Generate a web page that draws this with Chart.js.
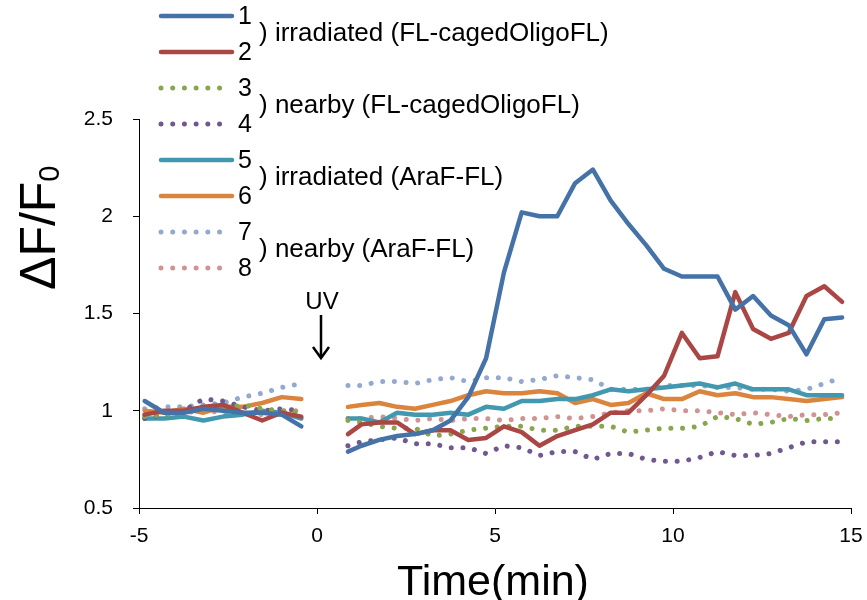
<!DOCTYPE html>
<html>
<head>
<meta charset="utf-8">
<script src="https://cdn.jsdelivr.net/npm/chart.js@4/dist/chart.umd.min.js"></script>
<style>
  html, body { margin: 0; padding: 0; background: #fff; }
  #wrap { width: 867px; height: 600px; position: relative; }
</style>
</head>
<body>
<div id="wrap"><canvas id="chart" width="867" height="600"></canvas></div>
<script>
(() => {
  'use strict';

  // sample times (min), before and after the UV pulse
  const timesPre = [-4.84, -4.29, -3.74, -3.19, -2.64, -2.09, -1.54, -0.99, -0.44];
  const timesPost = [0.87, 1.25, 1.75, 2.25, 2.75, 3.25, 3.75, 4.25, 4.75, 5.25, 5.75, 6.25, 6.75, 7.25, 7.75,
    8.25, 8.75, 9.25, 9.75, 10.25, 10.75, 11.25, 11.75, 12.25, 12.75, 13.25, 13.75, 14.25, 14.75];

  const s1Pre = [1.05, 0.99, 0.99, 1.01, 1.00, 0.99, 0.99, 0.98, 0.92];
  const s1Post = [0.79, 0.82, 0.85, 0.87, 0.88, 0.90, 0.95, 1.07, 1.27, 1.71, 2.02, 2.00, 2.00, 2.17, 2.24,
    2.08, 1.96, 1.85, 1.73, 1.69, 1.69, 1.69, 1.52, 1.59, 1.49, 1.44, 1.29, 1.47, 1.48];

  const s2Pre = [0.98, 1.00, 1.00, 1.02, 1.03, 0.99, 0.95, 0.99, 0.97];
  const s2Post = [0.88, 0.93, 0.94, 0.94, 0.88, 0.90, 0.90, 0.85, 0.86, 0.92, 0.89, 0.82, 0.87, 0.90, 0.93,
    0.99, 0.99, 1.08, 1.18, 1.40, 1.27, 1.28, 1.61, 1.42, 1.37, 1.40, 1.59, 1.64, 1.56];

  const s3Pre = [0.97, 0.98, 0.99, 1.02, 1.01, 1.03, 1.01, 1.00, 0.99];
  const s3Post = [0.95, 0.94, 0.92, 0.91, 0.91, 0.87, 0.88, 0.90, 0.91, 0.92, 0.92, 0.90, 0.90, 0.92, 0.92,
    0.92, 0.89, 0.90, 0.91, 0.91, 0.92, 0.97, 0.96, 0.93, 0.94, 0.96, 0.95, 0.96, 0.96];

  const s4Pre = [0.96, 0.98, 1.00, 1.06, 1.05, 1.02, 1.00, 1.01, 1.00];
  const s4Post = [0.82, 0.84, 0.85, 0.86, 0.83, 0.83, 0.81, 0.81, 0.78, 0.82, 0.81, 0.77, 0.79, 0.79, 0.75,
    0.78, 0.78, 0.75, 0.74, 0.74, 0.76, 0.79, 0.77, 0.77, 0.78, 0.81, 0.84, 0.84, 0.84];

  const s5Pre = [0.96, 0.96, 0.97, 0.95, 0.97, 0.98, 1.00, 0.99, 0.96];
  const s5Post = [0.96, 0.96, 0.94, 0.99, 0.98, 0.98, 0.99, 0.98, 1.02, 1.01, 1.05, 1.05, 1.06, 1.06, 1.08,
    1.11, 1.10, 1.11, 1.12, 1.13, 1.14, 1.12, 1.14, 1.11, 1.11, 1.11, 1.08, 1.08, 1.08];

  const s6Pre = [1.00, 0.99, 1.01, 0.99, 1.02, 1.02, 1.04, 1.07, 1.06];
  const s6Post = [1.02, 1.03, 1.04, 1.02, 1.01, 1.03, 1.05, 1.08, 1.10, 1.09, 1.09, 1.10, 1.09, 1.04, 1.06,
    1.03, 1.04, 1.09, 1.06, 1.06, 1.10, 1.08, 1.09, 1.07, 1.07, 1.06, 1.05, 1.06, 1.07];

  const s7Pre = [1.01, 1.02, 1.02, 1.03, 1.04, 1.07, 1.09, 1.12, 1.14];
  const s7Post = [1.13, 1.13, 1.15, 1.15, 1.14, 1.16, 1.17, 1.15, 1.17, 1.17, 1.15, 1.16, 1.18, 1.17, 1.16,
    1.11, 1.11, 1.11, 1.13, 1.13, 1.13, 1.12, 1.12, 1.11, 1.11, 1.10, 1.11, 1.14, 1.17];

  const s8Pre = [0.98, 0.97, 0.99, 1.00, 0.99, 0.99, 0.98, 1.00, 1.00];
  const s8Post = [0.96, 0.96, 0.97, 0.96, 0.95, 0.96, 0.95, 0.96, 0.96, 0.95, 0.96, 0.96, 0.97, 0.96, 0.97,
    0.99, 1.00, 1.00, 1.01, 1.00, 1.00, 0.99, 0.98, 0.99, 0.98, 0.97, 0.98, 0.98, 0.99];

  const seriesLabels = ['1', '2', '3', '4', '5', '6', '7', '8'];
  const groupLabels = [
    ') irradiated (FL-cagedOligoFL)',
    ') nearby (FL-cagedOligoFL)',
    ') irradiated (AraF-FL)',
    ') nearby (AraF-FL)'
  ];
  const xTicks = [-5, 0, 5, 10, 15];
  const yTicks = [0.5, 1, 1.5, 2, 2.5];

  const colors = ['#4572A7', '#AA4643', '#89A54E', '#71588F', '#4198AF', '#DB843D', '#93A9CF', '#D19392'];
  const dotted = [false, false, true, true, false, false, true, true];
  const FONT = "'Liberation Sans', Arial, sans-serif";
  const DOTS = [0.01, 11.7];

  /**
   * Joins pre and post values into points with a gap at the UV pulse
   */
  const toPoints = (pre, post) => [
    ...timesPre.map((t, i) => ({ x: t, y: pre[i] })),
    { x: 0, y: null },
    ...timesPost.map((t, i) => ({ x: t, y: post[i] }))
  ];

  const series = [
    [s1Pre, s1Post], [s2Pre, s2Post], [s3Pre, s3Post], [s4Pre, s4Post],
    [s5Pre, s5Post], [s6Pre, s6Post], [s7Pre, s7Post], [s8Pre, s8Post]
  ];

  const datasets = series.map(([pre, post], i) => ({
    label: seriesLabels[i],
    data: toPoints(pre, post),
    borderColor: colors[i],
    backgroundColor: colors[i],
    borderWidth: dotted[i] ? 5 : 4.5,
    borderDash: dotted[i] ? DOTS : [],
    borderCapStyle: 'round',
    borderJoinStyle: 'round',
    pointRadius: 0,
    tension: 0,
    spanGaps: false
  }));

  /**
   * Draws the legend, the UV arrow and the axis titles
   */
  const decorations = {
    id: 'decorations',
    afterDraw(chart) {
      const ctx = chart.ctx;
      ctx.save();
      ctx.fillStyle = '#000';

      // legend
      seriesLabels.forEach((label, i) => {
        const y = 16 + 36 * i;
        ctx.beginPath();
        ctx.strokeStyle = colors[i];
        ctx.lineWidth = dotted[i] ? 5 : 4.5;
        ctx.lineCap = 'round';
        ctx.setLineDash(dotted[i] ? DOTS : []);
        ctx.moveTo(161, y);
        ctx.lineTo(dotted[i] ? 223 : 232, y);
        ctx.stroke();
        ctx.setLineDash([]);
        ctx.font = '25px ' + FONT;
        ctx.textBaseline = 'middle';
        ctx.textAlign = 'left';
        ctx.fillText(label, 238, y + 1);
      });
      groupLabels.forEach((text, i) => {
        ctx.font = '26px ' + FONT;
        ctx.textBaseline = 'middle';
        ctx.fillText(text, 259, 34 + 72 * i);
      });

      // UV marker
      ctx.font = '24px ' + FONT;
      ctx.textAlign = 'center';
      ctx.textBaseline = 'alphabetic';
      ctx.fillText('UV', 322, 309);
      ctx.strokeStyle = '#000';
      ctx.lineWidth = 2.5;
      ctx.lineCap = 'butt';
      ctx.beginPath();
      ctx.moveTo(321, 315);
      ctx.lineTo(321, 357);
      ctx.stroke();
      ctx.beginPath();
      ctx.moveTo(313, 347);
      ctx.lineTo(321, 358);
      ctx.lineTo(329, 347);
      ctx.stroke();

      // x title
      ctx.font = '43px ' + FONT;
      ctx.fillText('Time(min)', 493, 595);

      // y title with subscript
      ctx.translate(55, 290);
      ctx.rotate(-Math.PI / 2);
      ctx.textAlign = 'left';
      ctx.font = '50px ' + FONT;
      ctx.fillText('ΔF/F', 0, 0);
      const w = ctx.measureText('ΔF/F').width;
      ctx.font = '29px ' + FONT;
      ctx.fillText('0', w, 4);
      ctx.restore();
    }
  };

  const axisGrid = {
    drawOnChartArea: false,
    drawTicks: true,
    tickLength: 6,
    color: '#000',
    tickColor: '#000'
  };

  new Chart(document.getElementById('chart'), {
    type: 'line',
    data: { datasets },
    options: {
      responsive: false,
      animation: false,
      devicePixelRatio: 1,
      layout: { padding: { left: 0, top: 119, right: 16, bottom: 0 } },
      plugins: { legend: { display: false }, tooltip: { enabled: false } },
      scales: {
        x: {
          type: 'linear',
          min: xTicks[0],
          max: xTicks[xTicks.length - 1],
          afterBuildTicks: (scale) => { scale.ticks = xTicks.map(v => ({ value: v })); },
          afterFit: (scale) => {
            scale.height = 92;
            scale.paddingLeft = 0;
            scale.paddingRight = 0;
          },
          ticks: { color: '#000', font: { family: FONT, size: 21 }, padding: 10, maxRotation: 0 },
          grid: axisGrid,
          border: { color: '#000', width: 1 }
        },
        y: {
          min: yTicks[0],
          max: yTicks[yTicks.length - 1],
          afterBuildTicks: (scale) => { scale.ticks = yTicks.map(v => ({ value: v })); },
          afterFit: (scale) => { scale.width = 139; },
          ticks: { color: '#000', font: { family: FONT, size: 21 }, padding: 20, callback: (v) => String(v) },
          grid: axisGrid,
          border: { color: '#000', width: 1 }
        }
      }
    },
    plugins: [decorations]
  });
})();
</script>
</body>
</html>
